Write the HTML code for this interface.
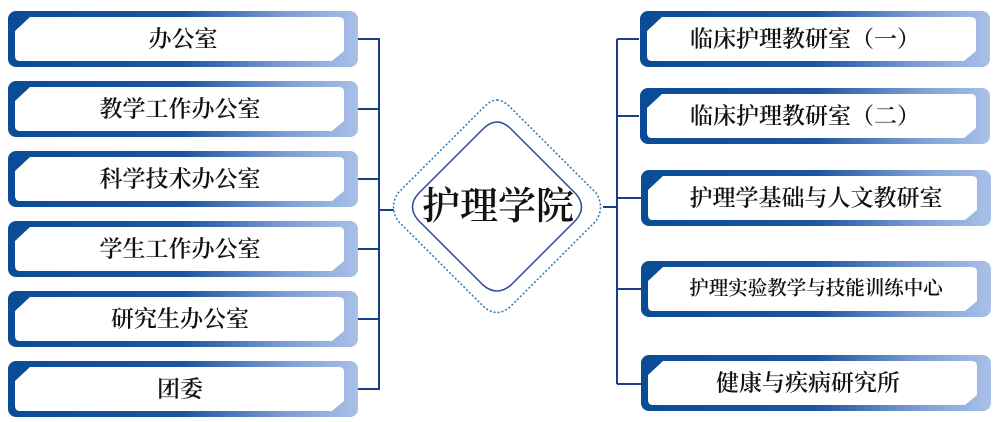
<!DOCTYPE html>
<html><head><meta charset="utf-8"><style>
html,body{margin:0;padding:0;background:#fff;}
svg{display:block}
text{font-family:"Liberation Serif","Noto Serif CJK SC","Noto Sans CJK SC",serif;fill:#111;text-anchor:middle;dominant-baseline:central;font-weight:600}
</style></head><body>
<svg width="997" height="422" viewBox="0 0 997 422" xmlns="http://www.w3.org/2000/svg">
<defs>
<linearGradient id="g" x1="0" y1="0" x2="1" y2="0">
<stop offset="0" stop-color="#0a4c96"/><stop offset="0.5" stop-color="#1d55a0"/><stop offset="0.8" stop-color="#7e9fd6"/><stop offset="1" stop-color="#a9c0e8"/>
</linearGradient>
<g id="box">
<rect x="0" y="0" width="350" height="56" rx="8" fill="url(#g)"/>
<path d="M22,6 L331,6 Q336,6 336,11 L336,40 L324,50 L12,50 Q7,50 7,45 L7,20 Z" fill="#fff"/>
</g>
</defs>
<g stroke="#1b3f86" stroke-width="2" fill="none">
<path d="M358,39 H379 V389 H358"/>
<path d="M358,109H379M358,179H379M358,249H379M358,319H379M379,210H395"/>
<path d="M603,207H617M617,39V384M617,39H639M617,116H639M617,198H641M617,289H641M617,384H641"/>
</g>
<use href="#box" x="8" y="11"/><text x="183" y="39" font-size="23">办公室</text>
<use href="#box" x="8" y="81"/><text x="180" y="109" font-size="23">教学工作办公室</text>
<use href="#box" x="8" y="151"/><text x="180" y="179" font-size="23">科学技术办公室</text>
<use href="#box" x="8" y="221"/><text x="180" y="249" font-size="23">学生工作办公室</text>
<use href="#box" x="8" y="291"/><text x="180" y="319" font-size="23">研究生办公室</text>
<use href="#box" x="8" y="361"/><text x="180" y="389" font-size="23">团委</text>
<use href="#box" x="640" y="11"/><text x="805" y="39" font-size="23">临床护理教研室（一）</text>
<use href="#box" x="640" y="88"/><text x="805" y="116" font-size="23">临床护理教研室（二）</text>
<use href="#box" x="641" y="170"/><text x="816" y="198" font-size="23">护理学基础与人文教研室</text>
<use href="#box" x="641" y="261"/><text x="816" y="289" font-size="19.5">护理实验教学与技能训练中心</text>
<use href="#box" x="641" y="355"/><text x="808" y="383" font-size="23">健康与疾病研究所</text>
<path d="M497,100 Q503,100 510,107 L596,193 Q605,207 596,221 L510,307 Q497,318 484,307 L398,221 Q389,207 398,193 L484,107 Q491,100 497,100 Z" fill="#fff" stroke="#2a78b0" stroke-width="1.5" stroke-dasharray="2,2"/>
<path d="M497,122 Q504,122 511,129 L576,194 Q587,207 576,220 L511,285 Q497,297 483,285 L418,220 Q407,207 418,194 L483,129 Q490,122 497,122 Z" fill="#fff" stroke="#2b4d9a" stroke-width="1.5"/>
<text x="498" y="207" font-size="38">护理学院</text>
</svg>
</body></html>
